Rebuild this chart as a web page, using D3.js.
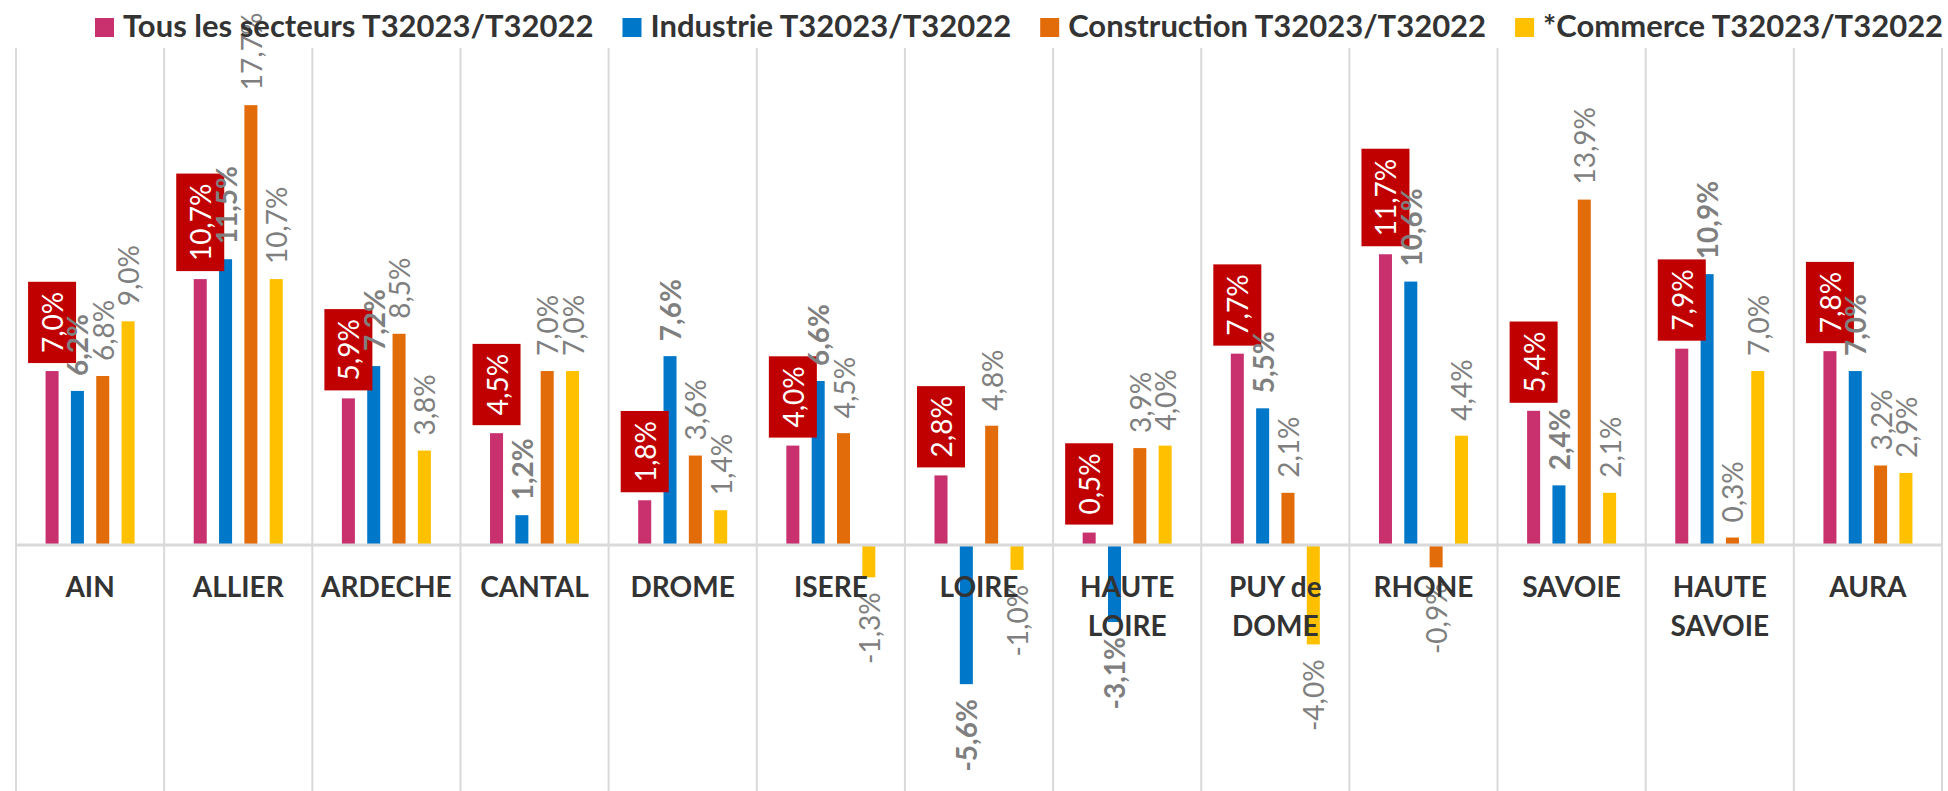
<!DOCTYPE html>
<html>
<head>
<meta charset="utf-8">
<script src="https://cdn.jsdelivr.net/npm/d3@7"></script>
<style>
  html, body { margin: 0; padding: 0; background: #fff; }
  svg { display: block; font-family: Lato, "Open Sans", sans-serif; }
</style>
</head>
<body>
<div id="viz"></div>
<script>
// categories (line breaks as on the axis)
const categories = ["AIN", "ALLIER", "ARDECHE", "CANTAL", "DROME", "ISERE", "LOIRE",
    "HAUTE\nLOIRE", "PUY de\nDOME", "RHONE", "SAVOIE", "HAUTE\nSAVOIE", "AURA"];

const seriesNames = ["Tous les secteurs T32023/T32022", "Industrie T32023/T32022",
    "Construction T32023/T32022", "*Commerce T32023/T32022"];
const seriesColors = ["#C8306E", "#0077C8", "#E36C0A", "#FFC000"];

// values in %, one array per series
const tousSecteurs = [7.0, 10.7, 5.9, 4.5, 1.8, 4.0, 2.8, 0.5, 7.7, 11.7, 5.4, 7.9, 7.8];
const industrie = [6.2, 11.5, 7.2, 1.2, 7.6, 6.6, -5.6, -3.1, 5.5, 10.6, 2.4, 10.9, 7.0];
const construction = [6.8, 17.7, 8.5, 7.0, 3.6, 4.5, 4.8, 3.9, 2.1, -0.9, 13.9, 0.3, 3.2];
const commerce = [9.0, 10.7, 3.8, 7.0, 1.4, -1.3, -1.0, 4.0, -4.0, 4.4, 2.1, 7.0, 2.9];

const yDomain = [-10, 20];

function draw() {
    const width = 1948;
    const height = 791;
    const plot = {left: 16, right: 1942, top: 48, bottom: 793.5};

    const allSeries = [tousSecteurs, industrie, construction, commerce];
    const fmt = v => v.toFixed(1).replace(".", ",") + "%";

    const svg = d3.select("#viz").append("svg")
        .attr("width", width)
        .attr("height", height);

    const x0 = d3.scaleBand()
        .domain(categories)
        .range([plot.left, plot.right])
        .paddingInner(0.233)
        .paddingOuter(0.1165);

    const x1 = d3.scaleBand()
        .domain(d3.range(seriesNames.length))
        .range([0, x0.bandwidth()])
        .padding(0.486);

    const y = d3.scaleLinear()
        .domain(yDomain)
        .range([plot.bottom, plot.top]);

    const step = x0.step();

    // vertical gridlines between categories
    svg.append("g")
        .selectAll("line")
        .data(d3.range(categories.length + 1))
        .enter()
        .append("line")
        .attr("x1", i => plot.left + i * step)
        .attr("x2", i => plot.left + i * step)
        .attr("y1", plot.top)
        .attr("y2", plot.bottom)
        .attr("stroke", "#D9D9D9")
        .attr("stroke-width", 2);

    // bars
    const groups = svg.append("g")
        .selectAll("g")
        .data(categories)
        .enter()
        .append("g")
        .attr("transform", c => `translate(${x0(c)},0)`);

    groups.selectAll("rect")
        .data((c, i) => allSeries.map((s, k) => ({k, v: s[i]})))
        .enter()
        .append("rect")
        .attr("x", d => x1(d.k))
        .attr("width", x1.bandwidth())
        .attr("y", d => y(Math.max(0, d.v)))
        .attr("height", d => Math.abs(y(d.v) - y(0)))
        .attr("fill", d => seriesColors[d.k]);

    // zero line
    svg.append("line")
        .attr("x1", plot.left)
        .attr("x2", plot.right)
        .attr("y1", y(0))
        .attr("y2", y(0))
        .attr("stroke", "#D9D9D9")
        .attr("stroke-width", 3);

    // data labels (rotated)
    const labelGap = 15;
    const labels = svg.append("g");
    groups.each(function (c, i) {
        const gx = x0(c);
        allSeries.forEach((s, k) => {
            const v = s[i];
            const cx = gx + x1(k) + x1.bandwidth() / 2;
            if (k === 0) {
                // boxed label for "Tous les secteurs"
                const t = labels.append("text")
                    .attr("font-size", 28)
                    .attr("fill", "#FFFFFF")
                    .attr("text-anchor", "middle")
                    .attr("dominant-baseline", "central")
                    .text(fmt(v));
                const len = t.node().getBBox().width;
                const boxH = len + 20;
                const boxBottom = y(v) - 8;
                labels.insert("rect", () => t.node())
                    .attr("x", cx - 24)
                    .attr("y", boxBottom - boxH)
                    .attr("width", 48)
                    .attr("height", boxH)
                    .attr("fill", "#C00000");
                t.attr("transform", `translate(${cx},${boxBottom - boxH / 2}) rotate(-90)`);
            } else {
                const yEnd = v >= 0 ? y(v) - labelGap : y(v) + labelGap;
                labels.append("text")
                    .attr("font-size", 28)
                    .attr("font-weight", k === 1 ? "bold" : "normal")
                    .attr("fill", "#7F7F7F")
                    .attr("text-anchor", v >= 0 ? "start" : "end")
                    .attr("dominant-baseline", "central")
                    .attr("transform", `translate(${cx},${yEnd}) rotate(-90)`)
                    .text(fmt(v));
            }
        });
    });

    // category axis labels
    svg.append("g")
        .selectAll("text")
        .data(categories)
        .enter()
        .append("text")
        .attr("x", c => x0(c) + x0.bandwidth() / 2)
        .attr("y", 597)
        .attr("text-anchor", "middle")
        .attr("font-size", 28)
        .attr("font-weight", "bold")
        .attr("fill", "#333333")
        .selectAll("tspan")
        .data(c => c.split("\n"))
        .enter()
        .append("tspan")
        .attr("x", function () { return this.parentNode.getAttribute("x"); })
        .attr("dy", (d, j) => j === 0 ? 0 : 38.5)
        .text(d => d);

    // legend
    const legend = svg.append("g");
    let lx = 95;
    seriesNames.forEach((name, k) => {
        legend.append("rect")
            .attr("x", lx)
            .attr("y", 18)
            .attr("width", 19)
            .attr("height", 19)
            .attr("fill", seriesColors[k]);
        const t = legend.append("text")
            .attr("x", lx + 28)
            .attr("y", 37)
            .attr("font-size", 31)
            .attr("font-weight", "bold")
            .attr("fill", "#333333")
            .text(name);
        lx += 28 + t.node().getComputedTextLength() + 29;
    });
}

document.addEventListener("DOMContentLoaded", () => {
    document.fonts.ready.then(draw);
});
</script>
</body>
</html>
